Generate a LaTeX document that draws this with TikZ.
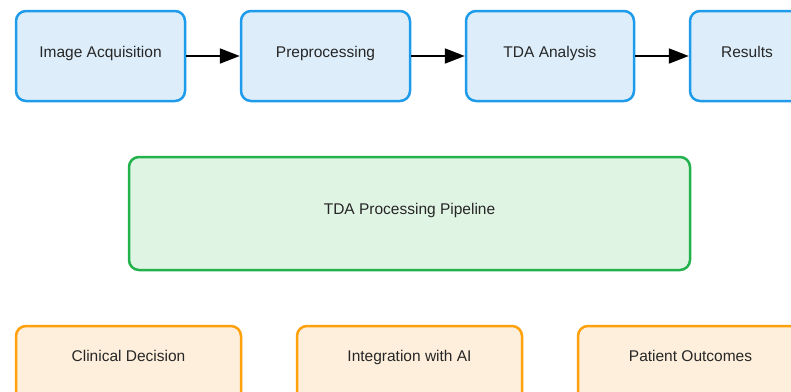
\documentclass[tikz,border=0pt]{standalone}
\usepackage{fontspec}
\setmainfont{Liberation Sans}
\usetikzlibrary{arrows.meta}
\definecolor{bluedraw}{HTML}{1E9BEB}
\definecolor{bluefill}{HTML}{DDEEFA}
\definecolor{greendraw}{HTML}{22B24C}
\definecolor{greenfill}{HTML}{E0F4E4}
\definecolor{orangedraw}{HTML}{FFA10A}
\definecolor{orangefill}{HTML}{FEEFDC}
\tikzset{
  boxbase/.style={rectangle, rounded corners=10pt, line width=2.5pt, inner sep=0pt,
    font=\fontsize{15.5}{18}\selectfont, text=black!85, text height=2pt, text depth=0pt},
  bluebox/.style={boxbase, draw=bluedraw, fill=bluefill, minimum height=90pt},
  greenbox/.style={boxbase, draw=greendraw, fill=greenfill, minimum height=113pt, minimum width=561pt},
  orangebox/.style={boxbase, draw=orangedraw, fill=orangefill, minimum height=90pt, minimum width=225pt},
  flow/.style={line width=2pt, -{Triangle[length=20pt,width=15pt]}}
}
\begin{document}
\begin{tikzpicture}[x=1pt,y=-1pt]
\useasboundingbox (0,0) rectangle (791,391);
\fill[white] (0,0) rectangle (791,391);
\clip (0,0) rectangle (791,391);
\node[bluebox, minimum width=169pt] (acq) at (100.5,56) {Image Acquisition};
\node[bluebox, minimum width=169pt] (pre) at (325.5,56) {Preprocessing};
\node[bluebox, minimum width=168pt] (tda) at (550,56) {TDA Analysis};
\node[bluebox, minimum width=114pt] (res) at (747,56) {Results};
\draw[flow] (acq) -- (pre);
\draw[flow] (pre) -- (tda);
\draw[flow] (tda) -- (res);
\node[greenbox] (pipe) at (409.5,213.5) {TDA Processing Pipeline};
\node[orangebox] (clin) at (128.5,371) {};
\node[orangebox] (ai) at (409.5,371) {};
\node[orangebox] (out) at (690.5,371) {};
\node[font=\fontsize{15.5}{18}\selectfont, text=black!85, anchor=base] (clint) at (128.5,361) {Clinical Decision};
\node[font=\fontsize{15.5}{18}\selectfont, text=black!85, anchor=base] (ait) at (409.5,361) {Integration with AI};
\node[font=\fontsize{15.5}{18}\selectfont, text=black!85, anchor=base] (outt) at (690.5,361) {Patient Outcomes};
\end{tikzpicture}
\end{document}
